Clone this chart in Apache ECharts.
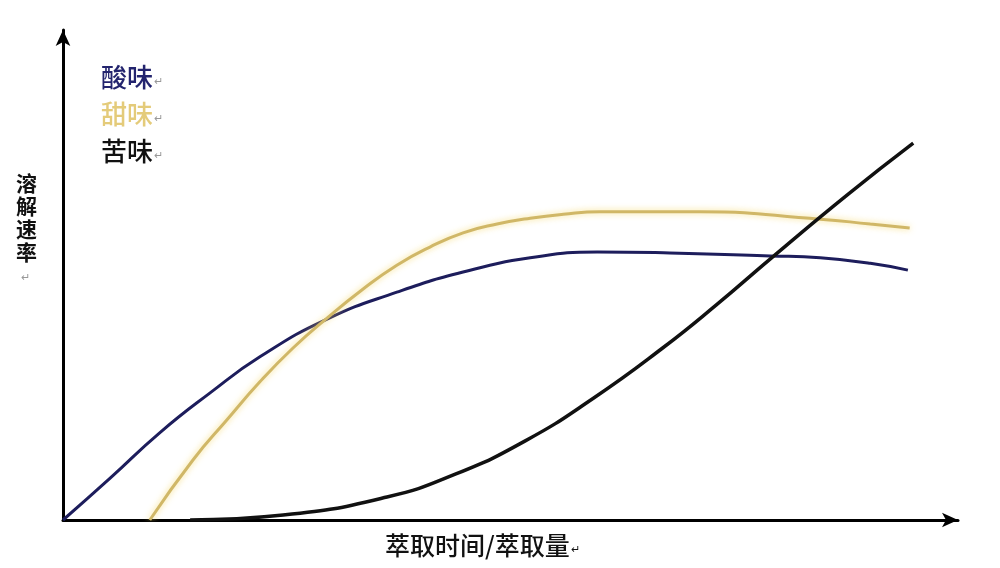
<!DOCTYPE html>
<html lang="zh">
<head>
    <meta charset="UTF-8">
    <title>溶解速率</title>
    <script src="https://cdn.jsdelivr.net/npm/echarts@6/dist/echarts.min.js"></script>
    <style>
        html, body { margin: 0; padding: 0; background: #fff; }
    </style>
</head>
<body>
    <div id="chart" style="width: 1000px; height: 568px;"></div>
    <script>
    // 横轴：萃取进度 0-100；纵轴：溶解速率 0-100（读图估算）
    var sourData = [
        [0, 0], [5.3, 8.6], [10.8, 17.8], [16.4, 25.9], [22.0, 33.3], [29.5, 41.0],
        [37.3, 46.5], [44.7, 50.6], [52.2, 53.5], [59.7, 54.7], [67.8, 54.5],
        [79.0, 53.9], [84.6, 53.5], [90.2, 52.4], [94.4, 51.0]
    ];
    var sweetData = [
        [9.7, 0], [14.5, 12.2], [18.3, 20.4], [22.0, 28.2], [25.7, 35.1],
        [29.5, 41.2], [33.5, 47.1], [37.3, 52.0], [41.0, 55.7], [44.7, 58.6],
        [48.5, 60.4], [52.2, 61.6], [55.9, 62.4], [60.0, 62.9], [71.2, 62.9],
        [84.6, 61.4], [90.2, 60.4], [94.6, 59.6]
    ];
    var bitterData = [
        [14.2, 0], [24.6, 1.0], [36.2, 4.7], [43.9, 9.4], [51.6, 16.1],
        [59.3, 24.9], [67.0, 35.1], [73.0, 43.9], [79.3, 53.7], [87.6, 66.3],
        [95.0, 76.9]
    ];
    var legendNames = ['酸味', '甜味', '苦味'];
    var lineColors = ['#1d1d5c', '#d0b767', '#111111'];
    var textColors = ['#23246e', '#e4cb7a', '#111111'];

    var myChart = echarts.init(document.getElementById('chart'));

    var cjk = '"Noto Sans CJK SC", sans-serif';
    var markStyle = { fontSize: 11, fontFamily: 'sans-serif', color: '#999', padding: [9, 0, 0, 1] };

    function arrowAxis() {
        return {
            type: 'value',
            min: 0,
            max: 100,
            axisLine: {
                show: true,
                symbol: ['none', 'arrow'],
                symbolSize: [11, 16],
                lineStyle: { color: '#000', width: 3 }
            },
            axisTick: { show: false },
            axisLabel: { show: false },
            splitLine: { show: false }
        };
    }

    function curve(i, data, extra) {
        var ls = { color: lineColors[i], width: 3 };
        for (var k in extra) ls[k] = extra[k];
        return {
            name: legendNames[i],
            type: 'line',
            data: data,
            smooth: 0.5,
            showSymbol: false,
            lineStyle: ls,
            itemStyle: { color: lineColors[i] }
        };
    }

    var option = {
        animation: false,
        backgroundColor: '#fff',
        grid: {
            left: 63,
            right: 42,
            top: 30,
            bottom: 48
        },
        legend: {
            orient: 'vertical',
            left: 91,
            top: 59,
            itemGap: 11,
            icon: 'none',
            itemWidth: 0,
            selectedMode: false,
            formatter: function (name) {
                return name + '{m|↵}';
            },
            data: legendNames.map(function (n, i) {
                return {
                    name: n,
                    textStyle: {
                        color: textColors[i],
                        fontSize: 26,
                        fontFamily: cjk,
                        fontWeight: 500,
                        rich: { m: markStyle }
                    }
                };
            })
        },
        xAxis: arrowAxis(),
        yAxis: arrowAxis(),
        graphic: [
            {
                type: 'text',
                left: 16,
                top: 172,
                style: {
                    text: '溶\n解\n速\n率',
                    font: 'bold 21px ' + cjk,
                    lineHeight: 23,
                    fill: '#111'
                }
            },
            {
                type: 'text',
                left: 21,
                top: 272,
                style: { text: '↵', font: '11px sans-serif', fill: '#999' }
            },
            {
                type: 'text',
                left: 385,
                top: 533,
                style: {
                    text: '萃取时间/萃取量{m|↵}',
                    font: '500 25px ' + cjk,
                    fill: '#111',
                    rich: { m: markStyle }
                }
            }
        ],
        series: [
            curve(0, sourData, {}),
            curve(1, sweetData, { shadowColor: 'rgba(245, 215, 100, 0.8)', shadowBlur: 6 }),
            curve(2, bitterData, { width: 3.5 })
        ]
    };

    myChart.setOption(option);
    </script>
</body>
</html>
